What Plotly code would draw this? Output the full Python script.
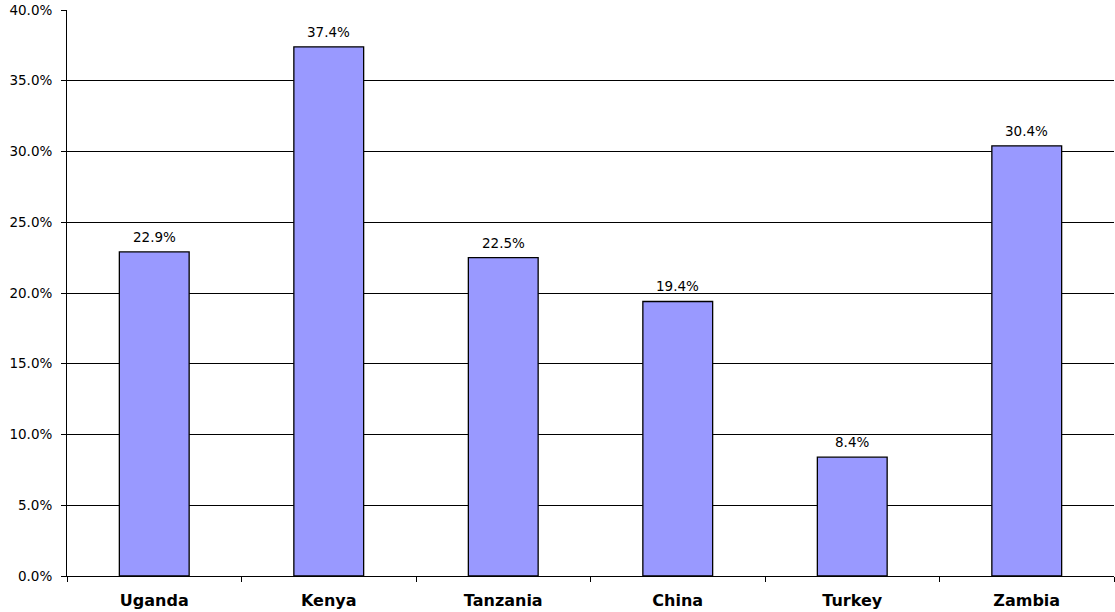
import plotly.graph_objects as go

countries = ["Uganda", "Kenya", "Tanzania", "China", "Turkey", "Zambia"]
shares = [22.9, 37.4, 22.5, 19.4, 8.4, 30.4]
y_ticks = [0, 5, 10, 15, 20, 25, 30, 35, 40]
y_tick_text = [f"{v:.1f}%" for v in y_ticks]

FONT = "DejaVu Sans, Liberation Sans, Arial, sans-serif"

fig = go.Figure(
    go.Bar(
        x=countries,
        y=shares,
        marker=dict(color="#9999FF", line=dict(color="#000", width=1.3)),
        cliponaxis=False,
    )
)

# value labels sitting just above each bar
for c, v in zip(countries, shares):
    fig.add_annotation(
        x=c,
        y=v,
        text=f"{v:.1f}%",
        showarrow=False,
        yanchor="bottom",
        yshift=5,
        font=dict(family=FONT, size=13.5, color="#000"),
    )

fig.update_layout(
    width=1115,
    height=612,
    margin=dict(l=67, r=1, t=10, b=36),
    paper_bgcolor="white",
    plot_bgcolor="white",
    bargap=0.6,
    showlegend=False,
    font=dict(family=FONT, color="#000"),
)

fig.update_xaxes(
    type="category",
    tickson="boundaries",
    ticks="outside",
    ticklen=5,
    tickcolor="#000",
    showline=True,
    linecolor="#000",
    linewidth=1,
    showgrid=False,
    tickfont=dict(size=16, family=FONT, weight="bold"),
    ticklabelstandoff=10,
)

fig.update_yaxes(
    range=[0, 40],
    tickvals=y_ticks,
    ticktext=y_tick_text,
    ticks="outside",
    ticklen=5,
    tickcolor="#000",
    showline=True,
    linecolor="#000",
    linewidth=1,
    showgrid=True,
    gridcolor="#000",
    gridwidth=1,
    zeroline=False,
    tickfont=dict(size=13.5, family=FONT),
    ticklabelstandoff=6,
)

fig.write_html("out.html")
